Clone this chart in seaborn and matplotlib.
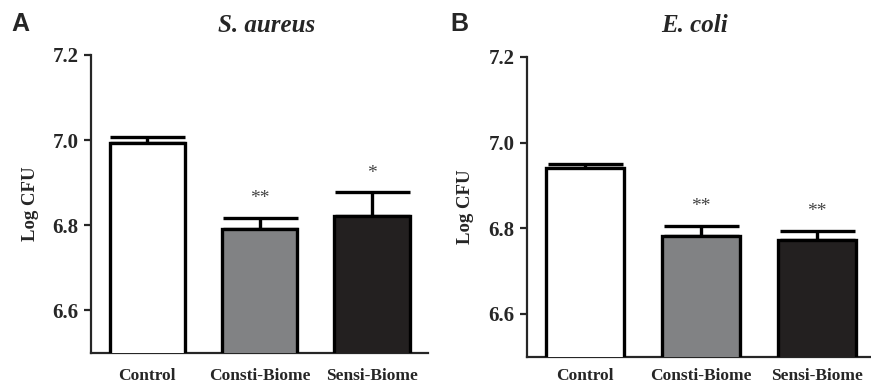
import matplotlib
matplotlib.use("Agg")
import matplotlib.pyplot as plt
import pandas as pd
import seaborn as sns

# data
groups = ["Control", "Consti-Biome", "Sensi-Biome"]
aureus_mean = [6.992, 6.792, 6.822]
aureus_err = [0.015, 0.026, 0.055]
aureus_sig = ["", "**", "*"]
coli_mean = [6.940, 6.781, 6.772]
coli_err = [0.010, 0.024, 0.022]
coli_sig = ["", "**", "**"]

bar_colors = ["#ffffff", "#808285", "#231f20"]

sns.set_theme(style="ticks")
plt.rcParams["font.family"] = ["Liberation Serif", "DejaVu Serif"]
plt.rcParams["font.weight"] = "bold"


def draw_panel(ax, means, errs, sig, xpad):
    df = pd.DataFrame({"group": groups, "value": means})
    sns.barplot(
        data=df, x="group", y="value", hue="group", palette=bar_colors,
        errorbar=None, width=0.67, edgecolor="black", linewidth=2.4,
        legend=False, ax=ax, zorder=3,
    )
    ax.errorbar(
        range(len(groups)), means, yerr=[[0] * len(errs), errs], fmt="none",
        ecolor="black", elinewidth=2.4, capsize=27, capthick=2.4, zorder=2,
    )
    for i, s in enumerate(sig):
        if s:
            ax.text(i, means[i] + errs[i] + 0.045, s, ha="center", va="center",
                    fontsize=14, color="#444444", fontweight="normal")
    ax.set_ylim(6.5, 7.2)
    ax.set_yticks([6.6, 6.8, 7.0, 7.2])
    ax.set_yticklabels(["6.6", "6.8", "7.0", "7.2"], fontsize=15, fontweight="bold")
    ax.set_xlabel("")
    ax.set_ylabel("Log CFU", fontsize=13.5, fontweight="bold", labelpad=10)
    ax.tick_params(axis="y", length=5, width=1.6, pad=4)
    ax.tick_params(axis="x", length=0, pad=xpad, labelsize=12.5)
    for lab in ax.get_xticklabels():
        lab.set_fontweight("bold")
    for sp in ["top", "right"]:
        ax.spines[sp].set_visible(False)
    for sp in ["left", "bottom"]:
        ax.spines[sp].set_linewidth(1.6)


fig = plt.figure(figsize=(8.71, 3.87), dpi=100)
ax1 = fig.add_axes([0.1045, 0.088, 0.387, 0.770])
ax2 = fig.add_axes([0.605, 0.078, 0.395, 0.775])

draw_panel(ax1, aureus_mean, aureus_err, aureus_sig, 11)
ax1.set_xlim(-0.5, 2.5)
draw_panel(ax2, coli_mean, coli_err, coli_sig, 8)
ax2.set_xlim(-0.5, 2.466)

fig.text(0.306, 0.935, "S. aureus", fontsize=18, fontweight="bold", style="italic",
         ha="center", va="center")
fig.text(0.797, 0.935, "E. coli", fontsize=18, fontweight="bold", style="italic",
         ha="center", va="center")

fig.text(0.013, 0.968, "A", fontsize=18, fontweight="bold", va="top",
         family=["Liberation Sans", "DejaVu Sans"])
fig.text(0.517, 0.968, "B", fontsize=18, fontweight="bold", va="top",
         family=["Liberation Sans", "DejaVu Sans"])

fig.savefig("out.png", dpi=100)
